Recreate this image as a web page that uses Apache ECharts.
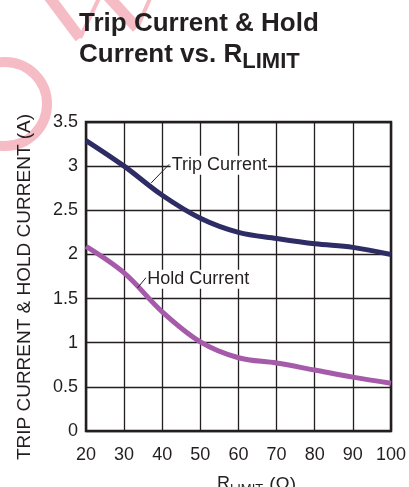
<!DOCTYPE html>
<html>
<head>
<meta charset="utf-8">
<script src="https://cdn.jsdelivr.net/npm/echarts@6/dist/echarts.min.js"></script>
<style>
html,body{margin:0;padding:0;background:#fff;}
#chart{width:409px;height:487px;}
</style>
</head>
<body>
<div id="chart"></div>
<script>
// ---- data ----
const rLimit = [20, 30, 40, 50, 60, 70, 80, 90, 100];
const tripCurrent = [3.29, 3.0, 2.67, 2.41, 2.25, 2.18, 2.12, 2.08, 2.0];
const holdCurrent = [2.09, 1.79, 1.35, 1.01, 0.83, 0.77, 0.69, 0.61, 0.54];
const xTicks = [20, 30, 40, 50, 60, 70, 80, 90, 100];
const yTicks = [0, 0.5, 1, 1.5, 2, 2.5, 3, 3.5];
// annotation anchor points (data coordinates)
const tripLabelAt = [42.2, 3.01];
const tripLeader = [[41.8, 3.02], [37.1, 2.81]];
const holdLabelAt = [35.8, 1.72];
const holdLeader = [[35.8, 1.74], [33.5, 1.62]];

const FONT = 'Liberation Sans, Arial, sans-serif';
const INK = '#231f20';
const PINK = '#f6bcc5';

const chart = echarts.init(document.getElementById('chart'), null, {renderer: 'canvas'});

function pairs(xs, ys) { return xs.map((x, i) => [x, ys[i]]); }

function annotation(labelAt, leader, text) {
  return {
    markPoint: {
      symbol: 'circle', symbolSize: 0, silent: true,
      label: {
        show: true, position: 'right', distance: 0,
        formatter: text, fontFamily: FONT, fontSize: 18, color: INK,
        backgroundColor: '#fff', padding: [1, 1, 0, 1]
      },
      data: [{coord: labelAt}]
    },
    markLine: {
      symbol: 'none', silent: true, animation: false,
      lineStyle: {color: INK, width: 1, type: 'solid'},
      label: {show: false},
      data: [[{coord: leader[0]}, {coord: leader[1]}]]
    }
  };
}

const option = {
  animation: false,
  backgroundColor: '#fff',
  textStyle: {fontFamily: FONT, color: INK},
  title: {
    left: 79, top: 11, padding: 0,
    text: '{a|Trip Current & Hold}\n{a|Current vs. R}{s|LIMIT}',
    textStyle: {
      rich: {
        a: {fontFamily: FONT, fontSize: 26, fontWeight: 'bold', color: INK, lineHeight: 31, verticalAlign: 'top'},
        s: {fontFamily: FONT, fontSize: 22, fontWeight: 'bold', color: INK, lineHeight: 31, verticalAlign: 'top', padding: [9, 0, 0, 0]}
      }
    }
  },
  grid: {
    left: 86, right: 14, top: 122, bottom: 56,
    show: true, borderColor: INK, borderWidth: 2.5, backgroundColor: 'transparent'
  },
  xAxis: {
    type: 'value', min: xTicks[0], max: xTicks[xTicks.length - 1], interval: 10,
    axisLine: {show: false}, axisTick: {show: false},
    axisLabel: {fontFamily: FONT, fontSize: 18, color: INK, margin: 15},
    splitLine: {show: true, lineStyle: {color: INK, width: 1.3}}
  },
  yAxis: {
    type: 'value', min: yTicks[0], max: yTicks[yTicks.length - 1], interval: 0.5,
    axisLine: {show: false}, axisTick: {show: false},
    axisLabel: {fontFamily: FONT, fontSize: 18, color: INK, margin: 8},
    splitLine: {show: true, lineStyle: {color: INK, width: 1.3}}
  },
  graphic: [
    {type: 'circle', silent: true, z: -1,
     shape: {cx: 5, cy: 104, r: 42},
     style: {stroke: PINK, lineWidth: 10, fill: null}},
    {type: 'polyline', silent: true, z: -1,
     shape: {points: [[47, -6], [80, 38]]},
     style: {stroke: PINK, lineWidth: 11, fill: null}},
    {type: 'polyline', silent: true, z: -1,
     shape: {points: [[80, 38], [101, -6]]},
     style: {stroke: PINK, lineWidth: 4, fill: null}},
    {type: 'polyline', silent: true, z: -1,
     shape: {points: [[106, -6], [137, 28]]},
     style: {stroke: PINK, lineWidth: 11, fill: null}},
    {type: 'polyline', silent: true, z: -1,
     shape: {points: [[137, 28], [152, -6]]},
     style: {stroke: PINK, lineWidth: 4, fill: null}},
    {type: 'text', x: 25, y: 287, rotation: Math.PI / 2,
     style: {text: 'TRIP CURRENT & HOLD CURRENT (A)', fontFamily: FONT, fontSize: 19, fill: INK,
             align: 'center', verticalAlign: 'middle'}},
    {type: 'text', x: 217, y: 475,
     style: {text: '{r|R}{s|LIMIT}{p|(Ω)}', align: 'left', verticalAlign: 'top',
             rich: {
               r: {fontFamily: FONT, fontSize: 18, fill: INK, color: INK, lineHeight: 22, verticalAlign: 'top'},
               s: {fontFamily: FONT, fontSize: 13, fill: INK, color: INK, lineHeight: 22, verticalAlign: 'top', padding: [8, 0, 0, 0]},
               p: {fontFamily: FONT, fontSize: 19, fill: INK, color: INK, lineHeight: 22, verticalAlign: 'top', padding: [0, 0, 0, 6]}
             }}}
  ],
  series: [
    Object.assign({
      name: 'Trip Current', type: 'line', smooth: 0.35, symbol: 'none',
      data: pairs(rLimit, tripCurrent),
      lineStyle: {color: '#2e2c64', width: 5}, itemStyle: {color: '#2e2c64'}, z: 3
    }, annotation(tripLabelAt, tripLeader, 'Trip Current')),
    Object.assign({
      name: 'Hold Current', type: 'line', smooth: 0.35, symbol: 'none',
      data: pairs(rLimit, holdCurrent),
      lineStyle: {color: '#a65aaa', width: 5}, itemStyle: {color: '#a65aaa'}, z: 3
    }, annotation(holdLabelAt, holdLeader, 'Hold Current'))
  ]
};
chart.setOption(option);
</script>
</body>
</html>
